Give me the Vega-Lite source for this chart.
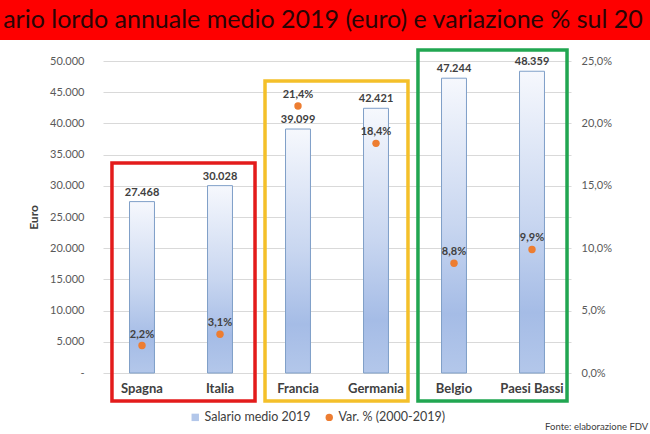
{
  "$schema": "https://vega.github.io/schema/vega-lite/v6.json",
  "width": 468,
  "height": 312,
  "autosize": {"type": "none"},
  "padding": {"left": 103, "top": 61, "right": 79, "bottom": 61},
  "background": "white",
  "config": {
    "locale": {"number": {"decimal": ",", "thousands": ".", "grouping": [3], "currency": ["€", ""]}},
    "view": {"stroke": null},
    "font": "Lato"
  },
  "datasets": {
    "main": [
      {"paese": "Spagna", "salario": 27468, "var": 0.022, "serie": "Var. % (2000-2019)"},
      {"paese": "Italia", "salario": 30028, "var": 0.031, "serie": "Var. % (2000-2019)"},
      {"paese": "Francia", "salario": 39099, "var": 0.214, "serie": "Var. % (2000-2019)"},
      {"paese": "Germania", "salario": 42421, "var": 0.184, "serie": "Var. % (2000-2019)"},
      {"paese": "Belgio", "salario": 47244, "var": 0.088, "serie": "Var. % (2000-2019)"},
      {"paese": "Paesi Bassi", "salario": 48359, "var": 0.099, "serie": "Var. % (2000-2019)"}
    ],
    "boxes": [
      {"x1": 0.115, "x2": 1.949, "y1": 33654, "y2": -4487, "col": "#e31b1b"},
      {"x1": 2.077, "x2": 3.91, "y1": 46795, "y2": -4487, "col": "#f4c02a"},
      {"x1": 4.038, "x2": 5.949, "y1": 51763, "y2": -4487, "col": "#21a651"}
    ],
    "banner": [
      {"x1": -1.6, "x2": 7.3, "y1": 53365, "y2": 62000}
    ],
    "texts": [
      {"x": -1.28, "y": 56570, "label": "ario lordo annuale medio 2019 (euro) e variazione % sul 20", "kind": "title"},
      {"x": 6.99, "y": -8654, "label": "Fonte: elaborazione FDV", "kind": "source"}
    ]
  },
  "layer": [
    {
      "data": {"name": "banner"},
      "mark": {"type": "rect", "fill": "#fe0000"},
      "encoding": {
        "x": {"field": "x1", "type": "quantitative", "scale": {"domain": [0, 6], "nice": false, "zero": false}, "axis": null},
        "x2": {"field": "x2"},
        "y": {"field": "y1", "type": "quantitative", "scale": {"domain": [0, 50000], "nice": false, "zero": false}, "axis": null},
        "y2": {"field": "y2"}
      }
    },
    {
      "data": {"name": "main"},
      "mark": {
        "type": "bar",
        "width": {"band": 0.32},
        "stroke": "#7f9fc8",
        "strokeWidth": 1,
        "color": {
          "gradient": "linear", "x1": 0, "y1": 0, "x2": 0, "y2": 1,
          "stops": [
            {"offset": 0, "color": "#f6f8fd"},
            {"offset": 0.5, "color": "#c8d6f0"},
            {"offset": 0.8, "color": "#a5bce6"},
            {"offset": 1, "color": "#b3c7ea"}
          ]
        }
      },
      "encoding": {
        "x": {
          "field": "paese", "type": "nominal", "sort": null,
          "scale": {"paddingInner": 0, "paddingOuter": 0},
          "axis": {"title": null, "labelFontWeight": "bold", "labelFontSize": 13, "labelColor": "#404040", "labelPadding": 9, "ticks": false, "domain": false, "labelAngle": 0, "grid": false}
        },
        "y": {
          "field": "salario", "type": "quantitative",
          "scale": {"domain": [0, 50000], "nice": false},
          "axis": {
            "orient": "left", "title": "Euro", "titleFontWeight": "bold", "titleFontSize": 12, "titleColor": "#404040", "titlePadding": 9,
            "values": [0, 5000, 10000, 15000, 20000, 25000, 30000, 35000, 40000, 45000, 50000],
            "format": ",d", "labelExpr": "datum.value === 0 ? '-' : datum.label",
            "labelColor": "#595959", "labelFontSize": 11, "labelPadding": 19,
            "ticks": false, "domain": false, "grid": true, "gridColor": "#d9d9d9"
          }
        }
      }
    },
    {
      "data": {"name": "boxes"},
      "mark": {"type": "rect", "filled": false, "strokeWidth": 3.5},
      "encoding": {
        "x": {"field": "x1", "type": "quantitative", "scale": {"domain": [0, 6], "nice": false, "zero": false}, "axis": null},
        "x2": {"field": "x2"},
        "y": {"field": "y1", "type": "quantitative", "scale": {"domain": [0, 50000], "nice": false, "zero": false}, "axis": null},
        "y2": {"field": "y2"},
        "stroke": {"field": "col", "type": "nominal", "scale": null, "legend": null}
      }
    },
    {
      "data": {"name": "main"},
      "mark": {"type": "text", "baseline": "bottom", "dy": -4, "fontWeight": "bold", "fontSize": 11, "color": "#404040"},
      "encoding": {
        "x": {"field": "paese", "type": "nominal", "sort": null, "scale": {"paddingInner": 0, "paddingOuter": 0}, "axis": null},
        "y": {"field": "salario", "type": "quantitative", "scale": {"domain": [0, 50000], "nice": false}, "axis": null},
        "text": {"field": "salario", "type": "quantitative", "format": ",d"}
      }
    },
    {
      "data": {"name": "main"},
      "mark": {"type": "point", "filled": true, "size": 55, "opacity": 1},
      "encoding": {
        "x": {"field": "paese", "type": "nominal", "sort": null, "scale": {"paddingInner": 0, "paddingOuter": 0}, "axis": null},
        "y": {
          "field": "var", "type": "quantitative",
          "scale": {"domain": [0, 0.25], "nice": false},
          "axis": {
            "orient": "right", "title": null,
            "values": [0, 0.05, 0.1, 0.15, 0.2, 0.25], "format": ".1%",
            "labelColor": "#595959", "labelFontSize": 11, "labelPadding": 10,
            "ticks": false, "domain": false, "grid": false
          }
        },
        "color": {
          "field": "serie", "type": "nominal",
          "scale": {"domain": ["Salario medio 2019", "Var. % (2000-2019)"], "range": ["#b3c7ea", "#ed7d31"]},
          "legend": {"orient": "none", "legendX": 86, "legendY": 350, "direction": "horizontal", "title": null, "labelFontSize": 12.5, "labelColor": "#404040", "symbolSize": 55, "columnPadding": 12, "labelOffset": 3, "padding": 0}
        },
        "shape": {
          "field": "serie", "type": "nominal",
          "scale": {"domain": ["Salario medio 2019", "Var. % (2000-2019)"], "range": ["square", "circle"]},
          "legend": {"orient": "none", "legendX": 86, "legendY": 350, "direction": "horizontal", "title": null, "labelFontSize": 12.5, "labelColor": "#404040", "symbolSize": 55, "columnPadding": 12, "labelOffset": 3, "padding": 0}
        }
      }
    },
    {
      "data": {"name": "main"},
      "mark": {"type": "text", "baseline": "bottom", "dy": -6, "fontWeight": "bold", "fontSize": 11, "color": "#404040"},
      "encoding": {
        "x": {"field": "paese", "type": "nominal", "sort": null, "scale": {"paddingInner": 0, "paddingOuter": 0}, "axis": null},
        "y": {"field": "var", "type": "quantitative", "scale": {"domain": [0, 0.25], "nice": false}, "axis": null},
        "text": {"field": "var", "type": "quantitative", "format": ".1%"}
      }
    },
    {
      "data": {"name": "texts"},
      "transform": [{"filter": "datum.kind === 'title'"}],
      "mark": {"type": "text", "align": "left", "baseline": "middle", "fontSize": 25, "color": "#2a0505"},
      "encoding": {
        "x": {"field": "x", "type": "quantitative", "scale": {"domain": [0, 6], "nice": false, "zero": false}, "axis": null},
        "y": {"field": "y", "type": "quantitative", "scale": {"domain": [0, 50000], "nice": false, "zero": false}, "axis": null},
        "text": {"field": "label"}
      }
    },
    {
      "data": {"name": "texts"},
      "transform": [{"filter": "datum.kind === 'source'"}],
      "mark": {"type": "text", "align": "right", "baseline": "middle", "fontSize": 9.5, "color": "#404040"},
      "encoding": {
        "x": {"field": "x", "type": "quantitative", "scale": {"domain": [0, 6], "nice": false, "zero": false}, "axis": null},
        "y": {"field": "y", "type": "quantitative", "scale": {"domain": [0, 50000], "nice": false, "zero": false}, "axis": null},
        "text": {"field": "label"}
      }
    }
  ],
  "resolve": {"scale": {"x": "independent", "y": "independent", "color": "independent", "shape": "independent", "stroke": "independent"}}
}
